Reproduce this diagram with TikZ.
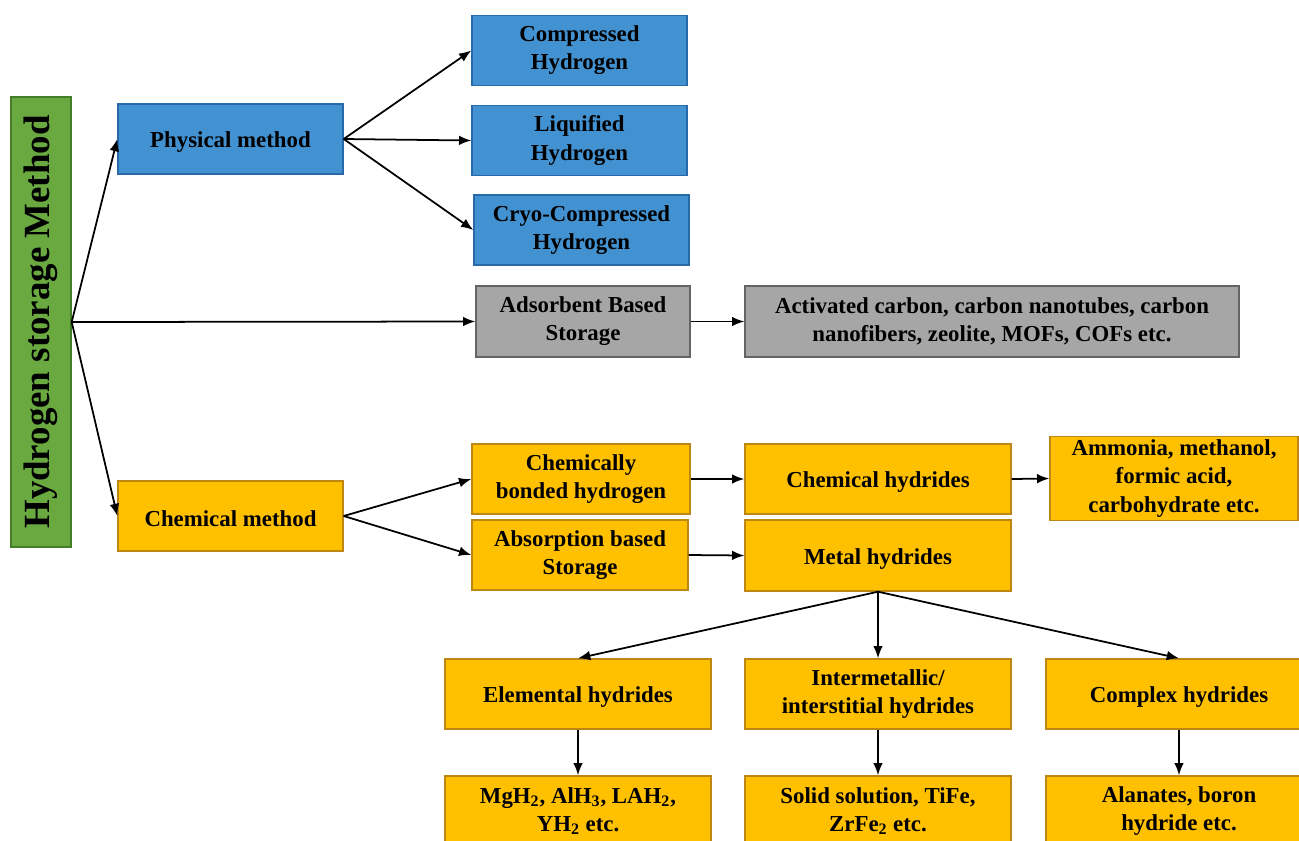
\documentclass[tikz,border=0pt]{standalone}
\usepackage{fontspec}
\setmainfont{Liberation Serif}
\usetikzlibrary{arrows.meta}

\definecolor{physfill}{RGB}{66,145,208}
\definecolor{physline}{RGB}{40,105,170}
\definecolor{adsfill}{RGB}{166,166,166}
\definecolor{adsline}{RGB}{100,100,100}
\definecolor{chemfill}{RGB}{255,192,0}
\definecolor{chemline}{RGB}{190,135,20}
\definecolor{rootfill}{RGB}{106,168,64}
\definecolor{rootline}{RGB}{70,125,40}

\begin{document}
\begin{tikzpicture}[x=0.02cm, y=-0.02cm,
  box/.style={draw, line width=0.8pt, align=center, inner sep=2pt, minimum height=1.4cm,
    font=\bfseries\fontsize{13}{16}\selectfont, execute at begin node={\rule{0pt}{12.5pt}}},
  physbox/.style={box, fill=physfill, draw=physline},
  adsbox/.style={box, fill=adsfill, draw=adsline, minimum height=1.42cm},
  chembox/.style={box, fill=chemfill, draw=chemline},
  link/.style={line width=1pt, -{Latex[length=7pt,width=5.5pt]}}]
\useasboundingbox (0,0) rectangle (1299,840);
\clip (0,0) rectangle (1299,840);

\node[draw=rootline, fill=rootfill, line width=0.8pt, minimum width=1.2cm, minimum height=9cm] (root) at (41,322) {};
\node[rotate=90, font=\bfseries\fontsize{21}{25}\selectfont] (roottext) at (41,322) {Hydrogen storage Method};

% physical
\node[physbox, minimum width=4.5cm] (phys) at (230.5,139) {Physical method};
\node[physbox, minimum width=4.3cm] (comp) at (579.5,50.5) {Compressed\\Hydrogen};
\node[physbox, minimum width=4.3cm] (liq) at (579.5,140.5) {Liquified\\Hydrogen};
\node[physbox, minimum width=4.3cm] (cryo) at (581.5,230) {Cryo-Compressed\\Hydrogen};

% adsorbent
\node[adsbox, minimum width=4.28cm] (ads) at (583,321.5) {Adsorbent Based\\Storage};
\node[adsbox, minimum width=9.88cm] (act) at (992,321.5) {Activated carbon, carbon nanotubes, carbon\\nanofibers, zeolite, MOFs, COFs etc.};

% chemical
\node[chembox, minimum width=4.5cm] (chem) at (230.5,516) {Chemical method};
\node[chembox, minimum width=4.36cm] (bond) at (581,479) {Chemically\\bonded hydrogen};
\node[chembox, minimum width=4.32cm] (abs) at (580,555) {Absorption based\\Storage};
\node[chembox, minimum width=5.32cm] (chyd) at (878,479) {Chemical hydrides};
\node[chembox, minimum width=4.96cm, minimum height=1.66cm] (amm) at (1174,478.5) {Ammonia, methanol,\\formic acid,\\carbohydrate etc.};
\node[chembox, minimum width=5.32cm, minimum height=1.42cm] (mhyd) at (878,555.5) {Metal hydrides};

\node[chembox, minimum width=5.32cm] (elem) at (578,694) {Elemental hydrides};
\node[chembox, minimum width=5.32cm] (inter) at (878,694) {Intermetallic/\\interstitial hydrides};
\node[chembox, minimum width=5.32cm] (cplx) at (1179,694) {Complex hydrides};
\node[chembox, minimum width=5.32cm] (mgh) at (578,811) {MgH\textsubscript{2}, AlH\textsubscript{3}, LAH\textsubscript{2},\\YH\textsubscript{2} etc.};
\node[chembox, minimum width=5.32cm] (sol) at (878,811) {Solid solution, TiFe,\\ZrFe\textsubscript{2} etc.};
\node[chembox, minimum width=5.32cm] (alan) at (1179,811) {Alanates, boron\\hydride etc.};

\draw[link] (root.east) -- (phys.west);
\draw[link] (root.east) -- (ads.west);
\draw[link] (root.east) -- (chem.west);

\draw[link] (phys.east) -- (comp.west);
\draw[link] (phys.east) -- (liq.west);
\draw[link] (phys.east) -- (cryo.west);

\draw[link] (ads.east) -- (act.west);

\draw[link] (chem.east) -- (bond.west);
\draw[link] (chem.east) -- (abs.west);
\draw[link] (bond.east) -- (chyd.west);
\draw[link] (chyd.east) -- (amm.west);
\draw[link] (abs.east) -- (mhyd.west);

\draw[link] (mhyd.south) -- (elem.north);
\draw[link] (mhyd.south) -- (inter.north);
\draw[link] (mhyd.south) -- (cplx.north);
\draw[link] (elem.south) -- (mgh.north);
\draw[link] (inter.south) -- (sol.north);
\draw[link] (cplx.south) -- (alan.north);
\end{tikzpicture}
\end{document}
